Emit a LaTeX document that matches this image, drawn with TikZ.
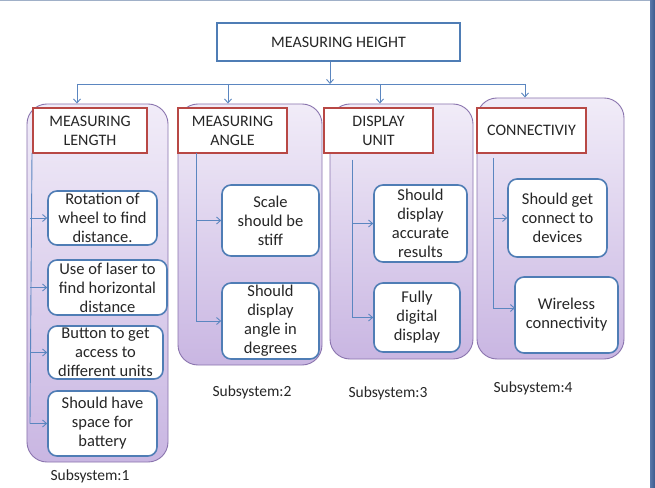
\documentclass[tikz,border=0pt]{standalone}
\usepackage{fontspec}
\setmainfont{Carlito}
\usetikzlibrary{arrows.meta}
\definecolor{lnblue}{HTML}{5B86C0}
\definecolor{bxblue}{HTML}{4F7DB5}
\definecolor{hdred}{HTML}{B84845}
\definecolor{pborder}{HTML}{8A74AE}
\definecolor{ptop}{HTML}{F1ECF8}
\definecolor{pbot}{HTML}{C9B6E2}
\tikzset{
  every node/.style={font=\fontsize{16bp}{19bp}\selectfont, text=black!85, inner sep=0pt},
  panel/.style={draw=pborder, line width=0.9bp, rounded corners=20bp, top color=ptop, bottom color=pbot},
  titlebox/.style={draw=bxblue, line width=1.8bp, fill=white, align=center},
  headbox/.style={draw=hdred, line width=1.8bp, fill=white, align=center},
  itembox/.style={draw=bxblue, line width=1.6bp, fill=white, rounded corners=9bp, align=center, font=\fontsize{16.5bp}{19bp}\selectfont},
  conn/.style={draw=lnblue, line width=0.9bp},
  arr/.style={conn, -{Straight Barb[length=4bp,width=7bp]}},
  lbl/.style={font=\fontsize{15.5bp}{19bp}\selectfont}
}
\begin{document}
\begin{tikzpicture}[x=1bp, y=-1bp]
\useasboundingbox (0,0) rectangle (655,488);
\fill[white] (0,0) rectangle (655,488);
\draw[color={rgb,255:red,160;green,176;blue,200}, line width=1bp] (0,0.5) -- (650,0.5);
\shade[left color={rgb,255:red,90;green,120;blue,170}, right color={rgb,255:red,60;green,90;blue,140}] (650,0) rectangle (655,488);

% panels
\node[panel, minimum width=141bp, minimum height=358bp] (c1) at (97.5,283) {};
\node[panel, minimum width=144bp, minimum height=261bp] (c2) at (250,234.5) {};
\node[panel, minimum width=143bp, minimum height=255bp] (c3) at (401.5,231.5) {};
\node[panel, minimum width=147bp, minimum height=261bp] (c4) at (550.5,228.5) {};

% title
\node[titlebox, minimum width=243bp, minimum height=38bp] (title) at (338.5,42) {MEASURING HEIGHT};

% headers
\node[headbox, minimum width=114bp, minimum height=45bp] (h1) at (90,130.5) {MEASURING\\LENGTH};
\node[headbox, minimum width=109bp, minimum height=45bp] (h2) at (232.5,130.5) {MEASURING\\ANGLE};
\node[headbox, minimum width=109bp, minimum height=45bp] (h3) at (378.5,130.5) {DISPLAY\\UNIT};
\node[headbox, minimum width=109bp, minimum height=45bp] (h4) at (531.5,130.5) {CONNECTIVIY};

% items
\node[itembox, minimum width=109bp, minimum height=54bp] (a1) at (102.5,218) {Rotation of\\wheel to find\\distance.};
\node[itembox, minimum width=119bp, minimum height=55bp] (a2) at (107.5,287.5) {Use of laser to\\find horizontal\\distance};
\node[itembox, minimum width=115bp, minimum height=53bp] (a3) at (105.5,352.5) {Button to get\\access to\\different units};
\node[itembox, minimum width=109bp, minimum height=65bp] (a4) at (102.5,423.5) {Should have\\space for\\battery};

\node[itembox, minimum width=97bp, minimum height=71bp] (b1) at (270.5,220.5) {Scale\\should be\\stiff};
\node[itembox, minimum width=97bp, minimum height=76bp] (b2) at (270.5,321) {Should\\display\\angle in\\degrees};

\node[itembox, minimum width=93bp, minimum height=77bp] (d1) at (420.5,223.5) {Should\\display\\accurate\\results};
\node[itembox, minimum width=86bp, minimum height=69bp] (d2) at (417,317.5) {Fully\\digital\\display};

\node[itembox, minimum width=99bp, minimum height=78bp] (e1) at (557.5,218) {Should get\\connect to\\devices};
\node[itembox, minimum width=103bp, minimum height=76bp] (e2) at (566.5,315) {Wireless\\connectivity};

% labels
\node[lbl] (s1) at (90,476) {Subsystem:1};
\node[lbl] (s2) at (252,392) {Subsystem:2};
\node[lbl] (s3) at (388,393) {Subsystem:3};
\node[lbl] (s4) at (533,388) {Subsystem:4};

% bus
\coordinate (bus) at (330,84);
\coordinate (busL) at (77,84);
\coordinate (busR) at (525,84);
\coordinate (bus2) at (228,84);
\coordinate (bus3) at (380,84);
\draw[arr] (title.south -| bus) -- (bus);
\draw[conn] (busL) -- (busR);
\draw[arr] (busL) -- (c1.north -| busL);
\draw[arr] (bus2) -- (c2.north -| bus2);
\draw[arr] (bus3) -- (c3.north -| bus3);
\draw[arr] (busR) -- (c4.north -| busR);

% column 1 spine
\coordinate (v1t) at (32,153);
\coordinate (v1b) at (30,423.5);
\draw[conn] (v1t) -- (v1b);
\draw[arr] (a1.west -| v1b) -- (a1.west);
\draw[arr] (a2.west -| v1b) -- (a2.west);
\draw[arr] (a3.west -| v1b) -- (a3.west);
\draw[arr] (v1b) -- (a4.west);

% column 2 spine
\coordinate (v2t) at (196,153);
\coordinate (v2b) at (196,321);
\draw[conn] (v2t) -- (v2b);
\draw[arr] (v2t |- b1.west) -- (b1.west);
\draw[arr] (v2b) -- (b2.west);

% column 3 spine
\coordinate (v3t) at (352,160);
\coordinate (v3b) at (352,317.5);
\draw[conn] (v3t) -- (v3b);
\draw[arr] (v3t |- d1.west) -- (d1.west);
\draw[arr] (v3b) -- (d2.west);

% column 4 spine
\coordinate (v4t) at (493,158);
\coordinate (v4b) at (493,308);
\coordinate (e2in) at (515,308);
\draw[conn] (v4t) -- (v4b);
\draw[arr] (v4t |- e1.west) -- (e1.west);
\draw[arr] (v4b) -- (e2in);
\end{tikzpicture}
\end{document}
